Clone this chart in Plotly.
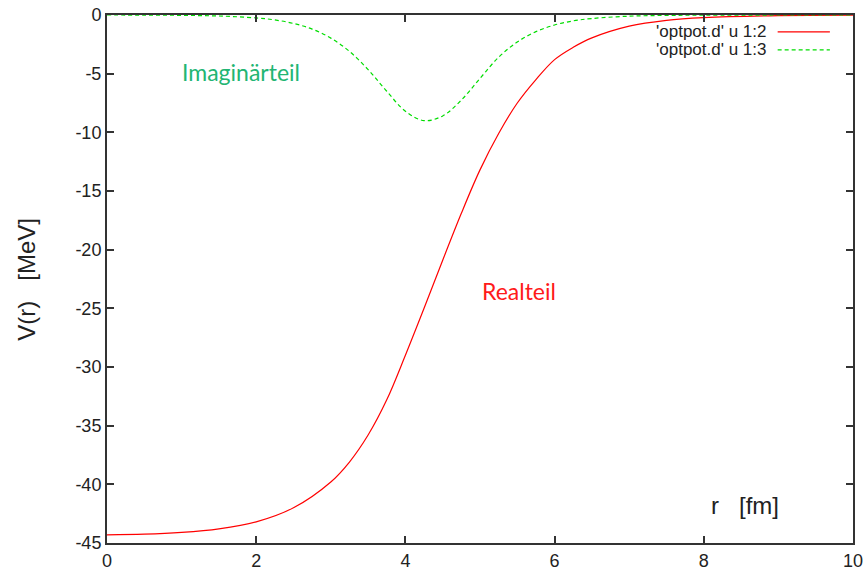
import plotly.graph_objects as go

# radius r [fm]
r_real = [0, 0.5, 1.0, 1.5, 2.0, 2.5, 3.0, 3.25, 3.5, 3.75, 4.0, 4.25, 4.5, 4.75,
          5.0, 5.25, 5.5, 5.75, 6.0, 6.25, 6.5, 7.0, 7.5, 8.0, 9.0, 10.0]
v_real = [-44.3, -44.25, -44.1, -43.8, -43.2, -42.0, -39.8, -38.1, -35.8, -32.8, -29.0,
          -25.0, -20.9, -16.9, -13.2, -10.1, -7.5, -5.5, -3.8, -2.75, -1.95, -0.95,
          -0.45, -0.22, -0.05, -0.01]

r_imag = [0, 0.5, 1.0, 1.5, 2.0, 2.25, 2.5, 2.75, 3.0, 3.25, 3.5, 3.75, 4.0, 4.25, 4.5,
          4.75, 5.0, 5.25, 5.5, 5.75, 6.0, 6.25, 6.5, 7.0, 7.5, 8.0, 9.0, 10.0]
v_imag = [0.0, -0.008, -0.03, -0.085, -0.25, -0.42, -0.72, -1.2, -1.97, -3.1, -4.65, -6.5,
          -8.2, -9.0, -8.6, -7.25, -5.4, -3.6, -2.3, -1.42, -0.85, -0.5, -0.3, -0.1,
          -0.035, -0.012, -0.002, 0.0]

series_names = ["'optpot.d' u 1:2", "'optpot.d' u 1:3"]
series_colors = ["#ff0000", "#00dd00"]
x_ticks = [0, 2, 4, 6, 8, 10]
y_ticks = [0, -5, -10, -15, -20, -25, -30, -35, -40, -45]

fig = go.Figure()
fig.add_trace(go.Scatter(x=r_real, y=v_real, mode="lines", name=series_names[0],
                         line=dict(color=series_colors[0], width=1.2, shape="spline",
                                   smoothing=1.0),
                         showlegend=False))
fig.add_trace(go.Scatter(x=r_imag, y=v_imag, mode="lines", name=series_names[1],
                         line=dict(color=series_colors[1], width=1.2, shape="spline",
                                   smoothing=1.0, dash="4px,3px"),
                         showlegend=False))

axis_common = dict(showgrid=False, zeroline=False, showline=True, linecolor="#333",
                   linewidth=2, ticks="inside", ticklen=7, tickwidth=1.5,
                   tickcolor="#333", mirror="allticks", automargin=False,
                   tickfont=dict(family="Liberation Sans, Arial", size=18, color="#222"))

fig.update_xaxes(range=[0, 10], tickvals=x_ticks, ticktext=[str(t) for t in x_ticks],
                 **axis_common)
fig.update_yaxes(range=[-45, 0], tickvals=y_ticks, ticktext=[str(t) for t in y_ticks],
                 **axis_common)

# gnuplot-style key (text then sample line)
key_y = [0.968, 0.934]
for i in range(2):
    fig.add_annotation(xref="paper", yref="paper", x=0.886, y=key_y[i],
                       text=series_names[i], showarrow=False, xanchor="right",
                       yanchor="middle",
                       font=dict(family="Liberation Sans, Arial", size=17, color="#222"))
    fig.add_shape(type="line", xref="paper", yref="paper", x0=0.899, x1=0.969,
                  y0=key_y[i], y1=key_y[i],
                  line=dict(color=series_colors[i], width=1.2,
                            dash="solid" if i == 0 else "4px,3px"))

fig.add_annotation(x=1.8, y=-4.9, text="Imaginärteil", showarrow=False,
                   font=dict(family="Lato", size=23, color="#22b573"))
fig.add_annotation(x=5.52, y=-23.5, text="Realteil", showarrow=False,
                   font=dict(family="Lato", size=23, color="#ff1a1a"))
fig.add_annotation(x=8.55, y=-41.8, text="r&nbsp;&nbsp;&nbsp;[fm]", showarrow=False,
                   font=dict(family="Liberation Sans, Arial", size=24, color="#222"))
fig.add_annotation(xref="paper", yref="paper", x=-0.109, y=0.5, xanchor="center",
                   yanchor="middle",
                   text="V(r)&nbsp;&nbsp;&nbsp;[MeV]", showarrow=False, textangle=-90,
                   font=dict(family="Liberation Sans, Arial", size=24, color="#222"))

fig.update_layout(width=867, height=571, margin=dict(l=107, r=14, t=15, b=28),
                  paper_bgcolor="white", plot_bgcolor="white")

fig.write_html("out.html", config={"displayModeBar": False},
               post_script="document.body.style.margin='0px';"
                           "document.body.style.overflow='hidden';")
